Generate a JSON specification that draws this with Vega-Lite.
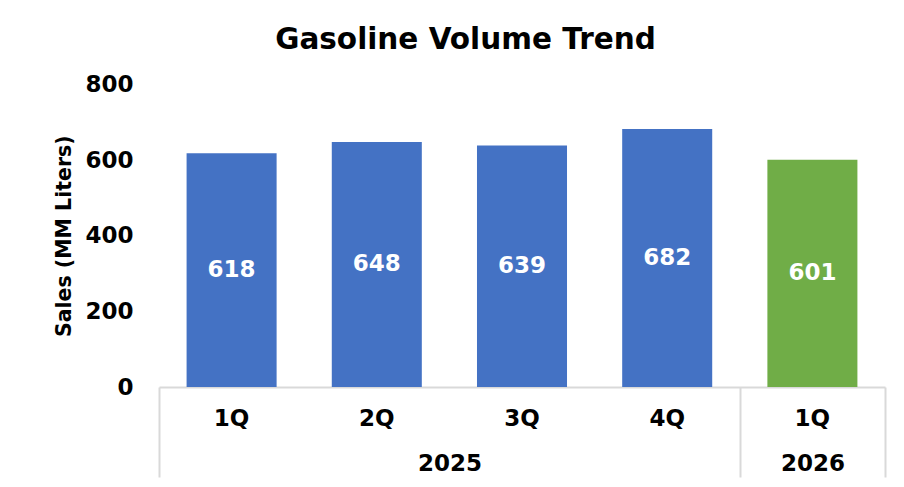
{
  "$schema": "https://vega.github.io/schema/vega-lite/v6.json",
  "width": 726,
  "height": 302.5,
  "autosize": {"type": "none"},
  "padding": {"left": 159, "top": 84.5, "right": 19, "bottom": 100},
  "background": "white",
  "config": {"view": {"stroke": null}, "font": "DejaVu Sans"},
  "title": {
    "text": "Gasoline Volume Trend",
    "font": "DejaVu Sans",
    "fontSize": 29.5,
    "fontWeight": "bold",
    "color": "black",
    "anchor": "middle",
    "frame": "bounds",
    "offset": 18,
    "dx": -5
  },
  "data": {
    "values": [
      {"year": 2025, "quarter": "1Q", "period": "2025 1Q", "sales": 618},
      {"year": 2025, "quarter": "2Q", "period": "2025 2Q", "sales": 648},
      {"year": 2025, "quarter": "3Q", "period": "2025 3Q", "sales": 639},
      {"year": 2025, "quarter": "4Q", "period": "2025 4Q", "sales": 682},
      {"year": 2026, "quarter": "1Q", "period": "2026 1Q", "sales": 601}
    ]
  },
  "transform": [{"calculate": "datum.sales / 2", "as": "label_pos"}],
  "layer": [
    {
      "layer": [
        {
          "mark": {"type": "bar"},
          "encoding": {
            "x": {
              "field": "period",
              "type": "nominal",
              "sort": null,
              "scale": {"paddingInner": 0.38, "paddingOuter": 0.19},
              "axis": {
                "title": null,
                "labelExpr": "split(datum.label, ' ')[1]",
                "labelAngle": 0,
                "domain": true,
                "domainColor": "#d9d9d9",
                "domainWidth": 2,
                "ticks": false,
                "grid": false,
                "labelFont": "DejaVu Sans",
                "labelFontSize": 23,
                "labelFontWeight": "bold",
                "labelColor": "black",
                "labelPadding": 20
              }
            },
            "y": {
              "field": "sales",
              "type": "quantitative",
              "title": "Sales (MM Liters)",
              "scale": {"domain": [0, 800], "nice": false},
              "axis": {
                "values": [0, 200, 400, 600, 800],
                "domain": false,
                "ticks": false,
                "grid": false,
                "labelFont": "DejaVu Sans",
                "labelFontSize": 23,
                "labelFontWeight": "bold",
                "labelColor": "black",
                "labelPadding": 26,
                "titleFont": "DejaVu Sans",
                "titleFontSize": 20.5,
                "titleFontWeight": "bold",
                "titleColor": "black",
                "titlePadding": 10
              }
            },
            "color": {
              "field": "year",
              "type": "nominal",
              "scale": {"domain": [2025, 2026], "range": ["#4472C4", "#70AD47"]},
              "legend": null
            }
          }
        },
        {
          "mark": {"type": "text", "color": "white", "font": "DejaVu Sans", "fontSize": 23, "fontWeight": "bold", "baseline": "middle", "align": "center"},
          "encoding": {
            "x": {"field": "period", "type": "nominal", "sort": null},
            "y": {"field": "label_pos", "type": "quantitative", "title": "Sales (MM Liters)", "scale": {"domain": [0, 800], "nice": false}},
            "text": {"field": "sales", "type": "quantitative"}
          }
        }
      ]
    },
    {
      "mark": {"type": "point", "opacity": 0},
      "encoding": {
        "x": {
          "field": "year",
          "type": "quantitative",
          "scale": {"domain": [2024.2, 2026.2], "nice": false, "zero": false},
          "axis": {
            "orient": "bottom",
            "title": null,
            "values": [2024.2, 2025, 2025.8, 2026, 2026.2],
            "labelExpr": "(datum.value == 2025 || datum.value == 2026) ? format(datum.value, 'd') : ''",
            "domain": false,
            "ticks": true,
            "tickSize": 90,
            "tickWidth": 2,
            "tickColor": "#d9d9d9",
            "tickOpacity": {"condition": {"test": "datum.value == 2025 || datum.value == 2026", "value": 0}, "value": 1},
            "grid": false,
            "labelPadding": -25,
            "labelFont": "DejaVu Sans",
            "labelFontSize": 23,
            "labelFontWeight": "bold",
            "labelColor": "black",
            "labelFlush": false,
            "labelOverlap": false,
            "labelBound": false
          }
        },
        "y": {"field": "sales", "type": "quantitative", "title": "Sales (MM Liters)", "scale": {"domain": [0, 800], "nice": false}}
      }
    }
  ],
  "resolve": {"scale": {"x": "independent"}, "axis": {"x": "independent"}}
}
